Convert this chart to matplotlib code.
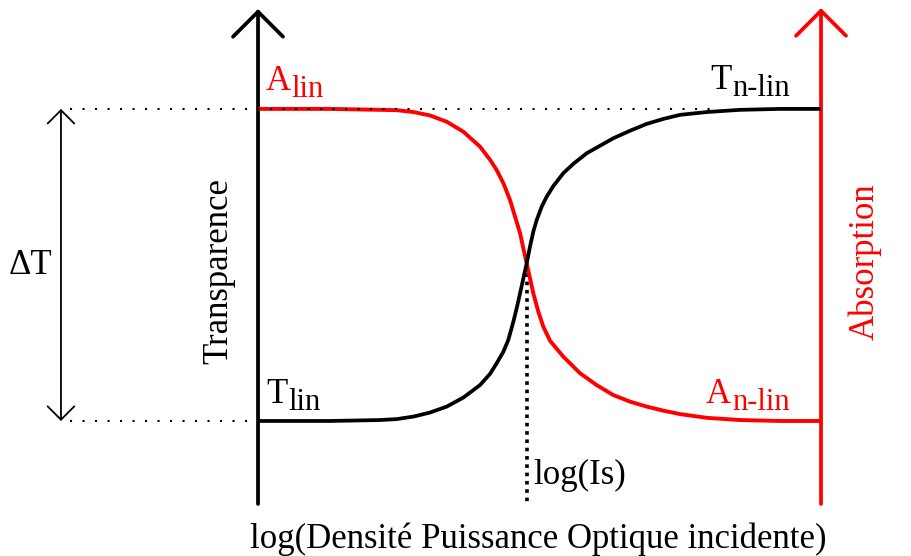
import matplotlib
matplotlib.use('Agg')
import matplotlib.pyplot as plt

plt.rcParams['font.family'] = ['Liberation Serif', 'DejaVu Serif']

# log(incident intensity), arbitrary units: 0 = left axis, 10 = right (Absorption) axis
x_T = [0, 1.28, 2.167, 2.463, 2.759, 3.055, 3.351, 3.647, 3.943, 4.121, 4.239, 4.358,
       4.446, 4.535, 4.594, 4.654, 4.713, 4.772, 4.831, 4.890, 4.950, 5.039, 5.128,
       5.246, 5.423, 5.601, 5.838, 6.075, 6.311, 6.607, 6.904, 7.200, 7.496, 7.975,
       8.561, 9.27, 10]
transparence = [0, 0, 0.003, 0.006, 0.014, 0.027, 0.046, 0.075, 0.115, 0.151, 0.185,
                0.222, 0.260, 0.318, 0.361, 0.409, 0.457, 0.505, 0.559, 0.607, 0.644,
                0.687, 0.719, 0.753, 0.794, 0.824, 0.858, 0.882, 0.906, 0.930, 0.952,
                0.968, 0.981, 0.990, 0.997, 1.0, 1.0]

x_A = [0, 1.28, 2.167, 2.463, 2.759, 3.055, 3.351, 3.647, 3.943, 4.121, 4.239, 4.358,
       4.476, 4.565, 4.654, 4.713, 4.772, 4.831, 4.890, 4.979, 5.068, 5.187, 5.423,
       5.719, 6.015, 6.311, 6.607, 6.904, 7.200, 7.496, 7.975, 8.561, 9.27, 10]
absorption = [1.0, 1.0, 0.997, 0.996, 0.990, 0.979, 0.959, 0.927, 0.879, 0.837, 0.804,
              0.762, 0.708, 0.655, 0.602, 0.553, 0.505, 0.457, 0.409, 0.350, 0.302,
              0.257, 0.206, 0.153, 0.115, 0.083, 0.062, 0.046, 0.033, 0.022, 0.010,
              0.003, 0, 0]

x_sat = 4.772  # log(Is)

W, H = 912, 556
fig = plt.figure(figsize=(W / 100, H / 100), dpi=100)
ax = fig.add_axes([0, 0, 1, 1])
ax.set_xlim(-4.583, 11.616)
ax.set_ylim(-0.4327, 1.349)
ax.axis('off')

y_axis = -0.266  # level of the horizontal axis
red = '#ff0000'


def fxy(px, py):
    # pixel position -> figure fraction, for the text labels
    return px / W, 1 - py / H


# axes with open arrow heads
arrow = dict(arrowstyle='->,head_length=0.4,head_width=0.4', lw=2.7,
             mutation_scale=45, shrinkA=0, shrinkB=0, color='black')
ax.annotate('', xy=(0, 1.32), xytext=(0, y_axis), arrowprops=arrow)
ax.annotate('', xy=(11.72, y_axis), xytext=(-0.025, y_axis), arrowprops=arrow)
ax.annotate('', xy=(10, 1.323), xytext=(10, y_axis),
            arrowprops=dict(arrow, color=red))

# curves
ax.plot(x_A, absorption, color=red, lw=2.8, solid_capstyle='butt', zorder=3)
ax.plot(x_T, transparence, color='black', lw=2.7, solid_capstyle='butt', zorder=3)

# guide lines
ax.plot([-3.34, 8.2], [1, 1], color='black', lw=1.5, ls=(0, (1, 5)), zorder=4)
ax.plot([-3.34, 0], [0, 0], color='black', lw=1.5, ls=(0, (1, 5)), zorder=4)
ax.plot([x_sat, x_sat], [0.5, y_axis], color='black', lw=2.6, ls=(0, (1, 1.3)), zorder=2)

# Delta T double arrow
ax.annotate('', xy=(-3.5, 1), xytext=(-3.5, 0),
            arrowprops=dict(arrowstyle='<->,head_length=0.4,head_width=0.4', lw=1.3,
                            mutation_scale=24, shrinkA=0, shrinkB=0, color='black'))

main_fs, sub_fs = 25, 22
labels = [('A', 'lin', 266, 291, 90, 97, red),
          ('T', 'n-lin', 710, 732, 89, 96, 'black'),
          ('T', 'lin', 266, 288, 403, 410, 'black'),
          ('A', 'n-lin', 706, 732, 403, 410, red)]
for main, sub, xm, xs, ym, ys, c in labels:
    fig.text(*fxy(xm, ym), main, fontsize=main_fs, color=c, va='baseline', ha='left')
    fig.text(*fxy(xs, ys), sub, fontsize=sub_fs, color=c, va='baseline', ha='left')

fig.text(*fxy(533, 484), 'log(Is)', fontsize=25, va='baseline', ha='left')
fig.text(*fxy(9, 274), 'ΔT', fontsize=25, va='baseline', ha='left')
fig.text(*fxy(227, 271), 'Transparence', fontsize=25, rotation=90, va='baseline',
         ha='center', rotation_mode='anchor')
fig.text(*fxy(874, 262), 'Absorption', fontsize=25, rotation=90, va='baseline',
         ha='center', rotation_mode='anchor', color=red)
fig.text(*fxy(538, 548), 'log(Densité Puissance Optique incidente)', fontsize=25,
         va='baseline', ha='center')

fig.savefig('out.png', dpi=100)
